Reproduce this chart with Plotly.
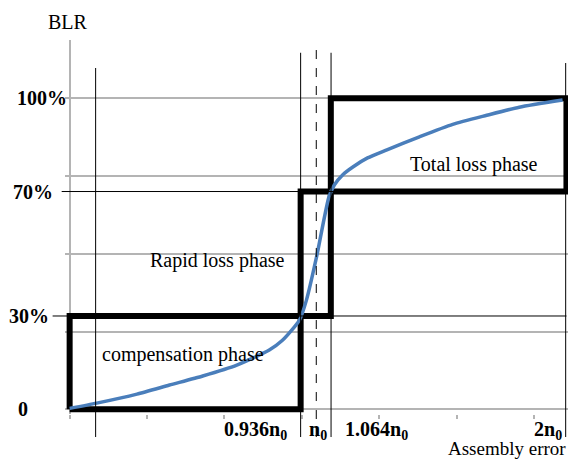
import plotly.graph_objects as go

# ---- data (x in schematic axis units, y in %) ----
curve_x = [0.0, 0.35, 0.87, 1.29, 1.72, 2.16, 2.58, 2.75, 2.97, 3.06, 3.19, 3.35, 3.42, 3.53, 3.66, 3.85, 4.10, 4.52, 4.95, 5.39, 5.81, 6.37]
curve_y = [0.3, 2.0, 4.9, 7.8, 10.7, 14.2, 19.1, 22.2, 28.7, 35.1, 48.9, 68.2, 72.1, 75.4, 77.9, 80.8, 83.4, 87.6, 91.6, 94.5, 97.1, 99.4]

phase_names = ["compensation phase", "Rapid loss phase", "Total loss phase"]
phase_x0 = [0.0, 2.985, 3.375]
phase_x1 = [2.985, 3.375, 6.42]
phase_y0 = [0, 30, 70]
phase_y1 = [30, 70, 100]
phase_label_x = [0.39, 1.01, 4.37]
phase_label_y = [17.5, 47.7, 78.6]

y_labels = ["0", "30%", "70%", "100%"]
y_label_vals = [0, 30, 70, 100]
y_label_x = [-0.607, -0.245, -0.194, -0.013]
y_label_anchor = ["center", "right", "right", "right"]

x_labels = ["0.936n<sub>0</sub>", "n<sub>0</sub>", "1.064n<sub>0</sub>", "2n<sub>0</sub>"]
x_label_x = [2.84, 3.204, 3.527, 6.176]
x_label_anchor = ["right", "center", "left", "center"]
x_label_y = -6.8

# thin vertical reference lines: x, top (in y units), style
vline_x = [0.336, 2.985, 3.187, 3.378, 6.41]
vline_top = [109.7, 114.6, 117.8, 114.6, 111.3]
vline_dash = ["solid", "solid", "dash", "solid", "solid"]
vline_bottom = -8.9

# thin horizontal reference lines at 30% and 70%
hline_y = [30, 70]
hline_x0 = [-0.22, -0.103]
hline_x1 = 6.42

XR = [-0.06, 6.44]
YR = [-1.5, 118.7]

def xp(v):
    return (v - XR[0]) / (XR[1] - XR[0])

def yp(v):
    return (v - YR[0]) / (YR[1] - YR[0])

FONT = "Liberation Serif"

fig = go.Figure()

# phase boxes
for i in range(len(phase_names)):
    fig.add_trace(go.Scatter(
        x=[phase_x0[i], phase_x1[i], phase_x1[i], phase_x0[i], phase_x0[i]],
        y=[phase_y0[i], phase_y0[i], phase_y1[i], phase_y1[i], phase_y0[i]],
        mode="lines", line=dict(color="black", width=6), hoverinfo="skip",
        showlegend=False))

# BLR curve
fig.add_trace(go.Scatter(x=curve_x, y=curve_y, mode="lines",
                         line=dict(color="#4a7ebb", width=3.5, shape="spline", smoothing=0.6),
                         showlegend=False))

shapes = []
for xv, top, dash in zip(vline_x, vline_top, vline_dash):
    shapes.append(dict(type="line", xref="x", yref="paper", x0=xv, x1=xv,
                       y0=yp(vline_bottom), y1=yp(top),
                       line=dict(color="black", width=1, dash=dash)))
for yv, x0 in zip(hline_y, hline_x0):
    shapes.append(dict(type="line", xref="paper", yref="y", x0=xp(x0), x1=xp(hline_x1),
                       y0=yv, y1=yv, line=dict(color="black", width=1)))

annotations = []
for t, xv, yv in zip(phase_names, phase_label_x, phase_label_y):
    annotations.append(dict(text=t, x=xp(xv), y=yp(yv), xref="paper", yref="paper",
                            xanchor="left", yanchor="middle", showarrow=False,
                            font=dict(family=FONT, size=20, color="black")))
for t, yv, xv, anc in zip(y_labels, y_label_vals, y_label_x, y_label_anchor):
    annotations.append(dict(text="<b>" + t + "</b>", x=xp(xv), y=yp(yv),
                            xref="paper", yref="paper",
                            xanchor=anc, yanchor="middle", showarrow=False,
                            font=dict(family=FONT, size=20, color="black")))
for t, xv, anc in zip(x_labels, x_label_x, x_label_anchor):
    annotations.append(dict(text="<b>" + t + "</b>", x=xp(xv), y=yp(x_label_y),
                            xref="paper", yref="paper",
                            xanchor=anc, yanchor="middle", showarrow=False,
                            font=dict(family=FONT, size=20, color="black")))
annotations.append(dict(text="BLR", x=xp(-0.026), y=yp(124.5), xref="paper", yref="paper",
                        xanchor="center", yanchor="middle", showarrow=False,
                        font=dict(family=FONT, size=20, color="black")))
annotations.append(dict(text="Assembly error", x=1.0, y=yp(-12.7), xref="paper",
                        yref="paper", xanchor="right", yanchor="middle", showarrow=False,
                        font=dict(family=FONT, size=19, color="black")))

fig.update_layout(
    width=571, height=460,
    margin=dict(l=65, r=3, t=40, b=46),
    paper_bgcolor="white", plot_bgcolor="white",
    shapes=shapes, annotations=annotations,
    xaxis=dict(range=XR, showgrid=False, zeroline=True, zerolinecolor="#b4b4b4",
               zerolinewidth=2, showline=False, tickvals=[0, 1, 2, 3, 4, 5, 6],
               ticks="outside", ticklen=4, tickwidth=2, tickcolor="#b4b4b4",
               showticklabels=False, fixedrange=True),
    yaxis=dict(range=YR, showgrid=True, gridcolor="#b4b4b4", gridwidth=2,
               tickvals=[25, 50, 75, 100], zeroline=True, zerolinecolor="#b4b4b4",
               zerolinewidth=2, showline=False, showticklabels=False, ticks="",
               fixedrange=True),
)

fig.write_html("out.html", config={"displayModeBar": False},
               post_script="document.body.style.margin='0';")
